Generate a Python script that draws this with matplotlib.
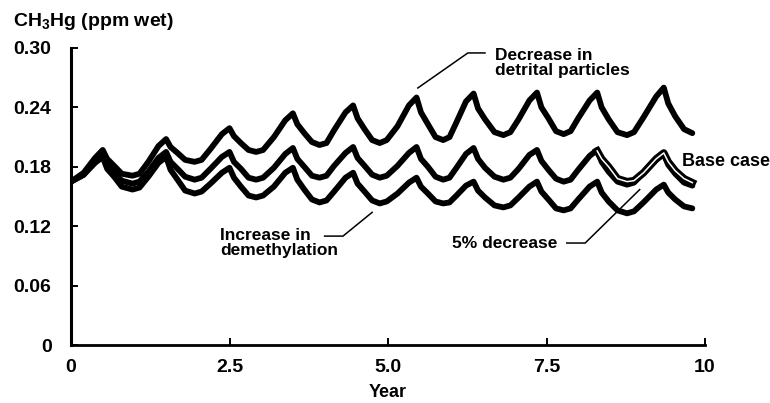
import matplotlib
matplotlib.use("Agg")
import matplotlib.pyplot as plt
import matplotlib.patheffects as pe

plt.rcParams["font.family"] = ["Liberation Sans", "DejaVu Sans"]
plt.rcParams["font.weight"] = "bold"
plt.rcParams["mathtext.fontset"] = "custom"
plt.rcParams["mathtext.rm"] = "Liberation Sans:bold"
plt.rcParams["mathtext.bf"] = "Liberation Sans:bold"
plt.rcParams["mathtext.default"] = "bf"

# years shared by the three main runs
years = [0.0, 0.2, 0.38, 0.5, 0.57, 0.68, 0.8,
         0.97, 1.08, 1.22, 1.38, 1.5, 1.57, 1.68, 1.8,
         1.95, 2.06, 2.2, 2.38, 2.5, 2.57, 2.68, 2.8,
         2.92, 3.03, 3.2, 3.38, 3.5, 3.57, 3.68, 3.8,
         3.92, 4.03, 4.15, 4.33, 4.45, 4.52, 4.63, 4.75,
         4.87, 4.98, 5.15, 5.33, 5.45, 5.52, 5.63, 5.75,
         5.87, 5.97, 6.08, 6.23, 6.35, 6.42, 6.53, 6.68,
         6.82, 6.93, 7.06, 7.23, 7.35, 7.42, 7.53, 7.65,
         7.77, 7.88, 8.0, 8.18, 8.3, 8.37, 8.48, 8.62,
         8.77, 8.88, 9.03, 9.23, 9.35, 9.42, 9.53, 9.67,
         9.8]

detrital = [0.165, 0.174, 0.189, 0.197, 0.188, 0.181, 0.173,
            0.171, 0.173, 0.185, 0.201, 0.208, 0.200, 0.194, 0.187,
            0.185, 0.187, 0.198, 0.213, 0.219, 0.211, 0.204, 0.197,
            0.195, 0.197, 0.210, 0.227, 0.234, 0.223, 0.214, 0.205,
            0.202, 0.204, 0.217, 0.235, 0.242, 0.229, 0.218, 0.207,
            0.204, 0.207, 0.221, 0.242, 0.250, 0.235, 0.223, 0.210,
            0.207, 0.210, 0.225, 0.246, 0.254, 0.239, 0.228, 0.215,
            0.212, 0.215, 0.228, 0.247, 0.255, 0.240, 0.229, 0.216,
            0.213, 0.216, 0.229, 0.247, 0.255, 0.240, 0.228, 0.215,
            0.212, 0.215, 0.230, 0.251, 0.260, 0.244, 0.231, 0.218,
            0.214]

base_case = [0.165, 0.172, 0.186, 0.193, 0.183, 0.174, 0.166,
             0.163, 0.165, 0.175, 0.189, 0.195, 0.185, 0.178, 0.170,
             0.167, 0.169, 0.178, 0.190, 0.195, 0.185, 0.178, 0.169,
             0.167, 0.169, 0.179, 0.193, 0.199, 0.188, 0.180, 0.171,
             0.169, 0.171, 0.181, 0.194, 0.200, 0.189, 0.181, 0.172,
             0.169, 0.171, 0.181, 0.194, 0.200, 0.188, 0.180, 0.170,
             0.167, 0.169, 0.179, 0.193, 0.199, 0.188, 0.179, 0.170,
             0.167, 0.169, 0.178, 0.192, 0.197, 0.186, 0.177, 0.168,
             0.165, 0.167, 0.177, 0.191, 0.197, 0.185, 0.175, 0.165,
             0.162, 0.164, 0.174, 0.187, 0.193, 0.182, 0.173, 0.164,
             0.161]

demethylation = [0.165, 0.172, 0.184, 0.190, 0.178, 0.170, 0.160,
                 0.157, 0.159, 0.170, 0.184, 0.190, 0.177, 0.167, 0.156,
                 0.153, 0.155, 0.163, 0.174, 0.179, 0.169, 0.160, 0.151,
                 0.149, 0.151, 0.160, 0.174, 0.179, 0.167, 0.157, 0.147,
                 0.144, 0.146, 0.155, 0.169, 0.174, 0.163, 0.155, 0.146,
                 0.143, 0.145, 0.153, 0.164, 0.169, 0.160, 0.153, 0.145,
                 0.143, 0.144, 0.151, 0.161, 0.165, 0.156, 0.149, 0.141,
                 0.139, 0.141, 0.149, 0.160, 0.165, 0.155, 0.147, 0.138,
                 0.136, 0.138, 0.147, 0.160, 0.165, 0.154, 0.145, 0.136,
                 0.133, 0.135, 0.144, 0.157, 0.162, 0.154, 0.147, 0.140,
                 0.138]

# 5% decrease run separates from the base case only in the last cycle
years_5pct = [8.3, 8.37, 8.48, 8.62, 8.77, 8.88, 9.03, 9.23, 9.35, 9.42, 9.53, 9.67, 9.8]
decrease_5pct = [0.196, 0.188, 0.180, 0.168, 0.165, 0.166, 0.174, 0.188, 0.194, 0.185, 0.176, 0.168, 0.164]

xticks = [0, 2.5, 5.0, 7.5, 10]
xtick_labels = ["0", "2.5", "5.0", "7.5", "10"]
yticks = [0, 0.06, 0.12, 0.18, 0.24, 0.30]
ytick_labels = ["0", "0.06", "0.12", "0.18", "0.24", "0.30"]

fig = plt.figure(figsize=(7.7, 4.03), dpi=100)
ax = fig.add_axes([71 / 770, 1 - 345 / 403, (705 - 71) / 770, (345 - 48) / 403])

lw = 4.2
for series in (detrital, base_case, demethylation):
    ax.plot(years, series, color="black", lw=lw, solid_joinstyle="round", solid_capstyle="round")
ax.plot(years_5pct, decrease_5pct, color="white", lw=1.1, solid_joinstyle="round",
        path_effects=[pe.Stroke(linewidth=5.4, foreground="black"), pe.Normal()])

ax.set_xlim(0, 10)
ax.set_ylim(0, 0.30)
ax.set_xticks(xticks)
ax.set_xticklabels(xtick_labels)
ax.set_yticks(yticks)
ax.set_yticklabels(ytick_labels)
ax.tick_params(direction="in", length=5, width=1.4, labelsize=14, pad=10)
ax.tick_params(axis="y", pad=14)
for s in ["top", "right"]:
    ax.spines[s].set_visible(False)
ax.spines["left"].set_linewidth(2.2)
ax.spines["bottom"].set_linewidth(2.0)

ax.set_xlabel("Year", fontsize=13, fontweight="bold", labelpad=6)
fig.text(13 / 770, 1 - 21 / 403, r"CH$_3$Hg (ppm wet)", fontsize=14, fontweight="bold",
         ha="left", va="center")

# annotations and leader lines
kw = dict(fontsize=12.5, fontweight="bold", ha="left", linespacing=1.0)
ax.text(6.69, 0.2995, "Decrease in\ndetrital particles", va="top", **kw)
ax.plot([5.47, 6.26, 6.53], [0.2596, 0.295, 0.295], color="black", lw=1.1, clip_on=False)

ax.text(2.35, 0.118, "Increase in\ndemethylation", va="top", **kw)
ax.plot([4.0, 4.29, 4.75], [0.110, 0.110, 0.134], color="black", lw=1.1, clip_on=False)

ax.text(6.01, 0.103, "5% decrease", va="center", **kw)
ax.plot([7.82, 8.11, 8.97], [0.103, 0.103, 0.157], color="black", lw=1.1, clip_on=False)

ax.text(9.64, 0.185, "Base case", va="center", fontsize=13, fontweight="bold", ha="left")

fig.savefig("out.png", dpi=100)
